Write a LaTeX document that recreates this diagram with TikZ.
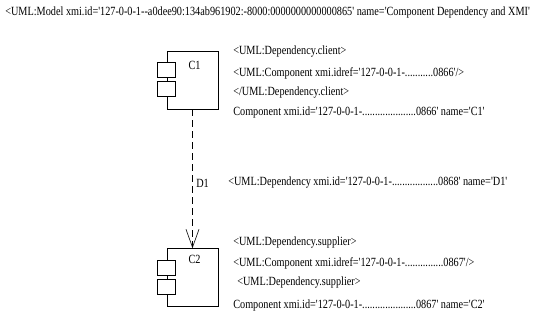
\documentclass[tikz,border=0pt]{standalone}
\usepackage{fontspec}
\setmainfont{Liberation Serif}[Ligatures=TeXOff,FakeStretch=0.82]
\usetikzlibrary{positioning}
\usetikzlibrary{arrows.meta}
\usetikzlibrary{calc}
\usetikzlibrary{math}

\begin{document}
\begin{tikzpicture}[x=1pt,y=-1pt,line width=0.6pt,
  comp/.style={draw,minimum width=51pt,minimum height=58pt,inner sep=0pt},
  port/.style={draw,fill=white,minimum width=18pt,minimum height=15pt,inner sep=0pt},
  xmi/.style={anchor=west,inner sep=0pt,font=\fontsize{12.5}{14}\selectfont}]

  \tikzmath{
    \boxx = 192.5; % centre of the component boxes
    \textx = 233;  % left edge of the xmi text
  }

  \useasboundingbox (0,0) rectangle (544,325);

  % model header
  \node[xmi] (model) at (5,13)
  {<UML:Model xmi.id='127-0-0-1--a0dee90:134ab961902:-8000:0000000000000865' name='Component Dependency and XMI'};

  % Component C1
  \node[comp] (C1) at (\boxx,80) {};
  \node[port] (C1a) at ($(C1.north west)+(0,19.5)$) {};
  \node[port] (C1b) at ($(C1.north west)+(0,38.5)$) {};
  \node[font=\fontsize{12.5}{14}\selectfont] (C1name) at ($(C1.north)+(2,15)$) {C1};

  % Component C2
  \node[comp] (C2) at (\boxx,277.5) {};
  \node[port] (C2a) at ($(C2.north west)+(0,19.5)$) {};
  \node[port] (C2b) at ($(C2.north west)+(0,38.5)$) {};
  \node[font=\fontsize{12.5}{14}\selectfont] (C2name) at ($(C2.north)+(2,11)$) {C2};

  % Dependency D1
  \draw[dash pattern=on 7pt off 4pt,-{Straight Barb[length=18pt,width=13pt]}] (C1) -- (C2);
  \node[xmi] (D1name) at (196,183) {D1};

  % client side
  \node[xmi] (client1) at (\textx,52) {<UML:Dependency.client>};
  \node[xmi] (client2) at (\textx,73) {<UML:Component xmi.idref='127-0-0-1-...........0866'/>};
  \node[xmi] (client3) at (\textx,93) {</UML:Dependency.client>};
  \node[xmi] (client4) at (\textx,112) {Component xmi.id='127-0-0-1-.....................0866' name='C1'};

  % dependency
  \node[xmi] (dep) at (228,183) {<UML:Dependency xmi.id='127-0-0-1-..................0868' name='D1'};

  % supplier side
  \node[xmi] (supplier1) at (\textx,243) {<UML:Dependency.supplier>};
  \node[xmi] (supplier2) at (\textx,263) {<UML:Component xmi.idref='127-0-0-1-...............0867'/>};
  \node[xmi] (supplier3) at (237,283) {<UML:Dependency.supplier>};
  \node[xmi] (supplier4) at (\textx,305) {Component xmi.id='127-0-0-1-.....................0867' name='C2'};

\end{tikzpicture}
\end{document}
